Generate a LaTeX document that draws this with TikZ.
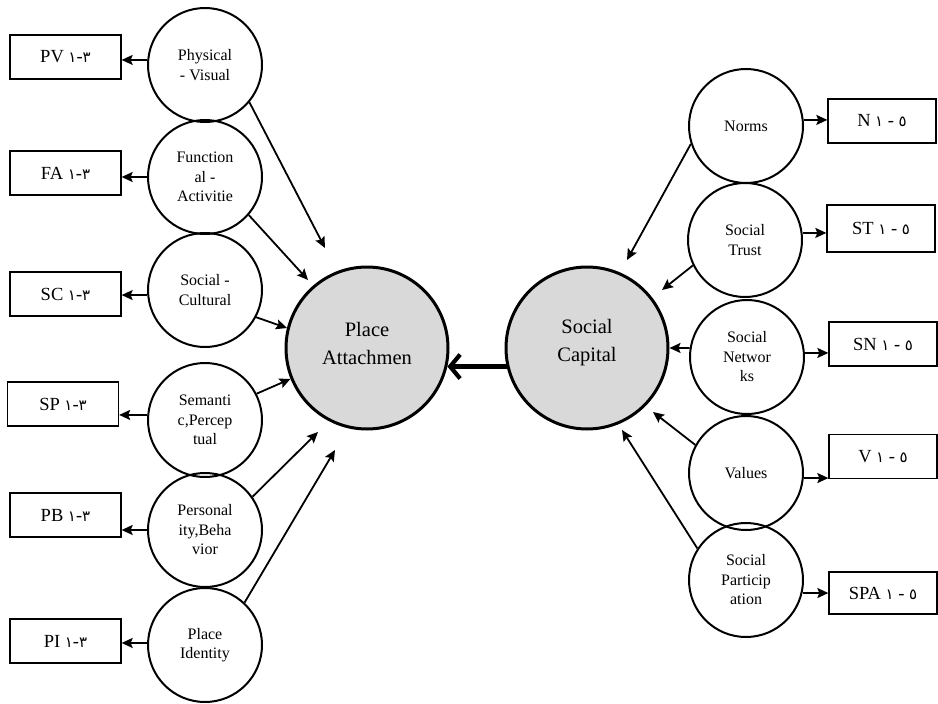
\documentclass[tikz,border=0pt]{standalone}
\usepackage{fontspec}
\setmainfont{Liberation Serif}
\newfontfamily\arfont{DejaVu Sans}
\usetikzlibrary{arrows.meta}
\definecolor{capgray}{HTML}{D9D9D9}
\newcommand{\ard}[1]{{\arfont\fontsize{15}{15}\selectfont #1}}
\tikzset{
 facc/.style={circle, draw, line width=2pt, minimum size=114pt, inner sep=0pt, align=center, font=\fontsize{16}{19.5}\selectfont},
 bigc/.style={circle, draw, line width=3pt, fill=capgray, minimum size=162pt, inner sep=0pt},
 bigtext/.style={align=center, font=\fontsize{20.5}{28}\selectfont, inner sep=0pt},
 itembox/.style={draw, line width=1.3pt, minimum width=111pt, minimum height=44pt, inner sep=0pt, font=\fontsize{18.5}{20}\selectfont},
 ritembox/.style={itembox, minimum width=108pt},
 arr/.style={line width=1.8pt, -{Stealth[length=11pt,width=10pt,inset=2pt]}},
 bigarr/.style={line width=4.2pt, -{Straight Barb[length=10pt,width=24pt]}, line cap=round}
}
\begin{document}
\begin{tikzpicture}[x=1pt,y=-1pt]
\useasboundingbox (0,0) rectangle (938,704);
% central circles
\node[bigc] (pa) at (367,348) {};
\node[bigc] (sc) at (587,348) {};
\node[bigtext] (pat) at (367,343) {Place\\Attachmen};
\node[bigtext] (sct) at (587,343) {Social\\Capital};
\draw[bigarr] (sc.193.7) -- (pa.-13.7);
% left factors
\node[facc] (pv) at (205,65) {Physical\\- Visual};
\node[facc] (fa) at (205,177) {Function\\al -\\Activitie};
\node[facc] (scu) at (205,290) {Social -\\Cultural};
\node[facc] (sp) at (205,420) {Semanti\\c,Percep\\tual};
\node[facc] (pb) at (205,530) {Personal\\ity,Beha\\vior};
\node[facc] (pi) at (205,645) {Place\\Identity};
% left boxes
\node[itembox] (bpv) at (65.5,57) {PV \ard{١}-\ard{٣}};
\node[itembox] (bfa) at (65.5,173) {FA \ard{١}-\ard{٣}};
\node[itembox] (bsc) at (65.5,294) {SC \ard{١}-\ard{٣}};
\node[itembox] (bsp) at (63,404) {SP \ard{١}-\ard{٣}};
\node[itembox] (bpb) at (65.5,515) {PB \ard{١}-\ard{٣}};
\node[itembox] (bpi) at (65.5,641) {PI \ard{١}-\ard{٣}};
\draw[arr] (pv.175) -- (pv.175 -| bpv.east);
\draw[arr] (fa.west) -- (fa.west -| bfa.east);
\draw[arr] (scu.185) -- (scu.185 -| bsc.east);
\draw[arr] (sp.175) -- (sp.175 -| bsp.east);
\draw[arr] (pb.west) -- (pb.west -| bpb.east);
\draw[arr] (pi.178) -- (pi.178 -| bpi.east);
% arrows into Place Attachment
\coordinate (t1) at (325,248);
\coordinate (t2) at (308,280);
\coordinate (t5) at (318,432);
\coordinate (t6) at (335,450);
\draw[arr] (pv.-40) -- (t1);
\draw[arr] (fa.-41) -- (t2);
\draw[arr] (scu.-28) -- (pa.166);
\draw[arr] (sp.27) -- (pa.202.5);
\draw[arr] (pb.35) -- (t5);
\draw[arr] (pi.47) -- (t6);
% right factors
\node[facc] (no) at (746,126) {Norms};
\node[facc] (st) at (745,240) {Social\\Trust};
\node[facc] (sn) at (747,357) {Social\\Networ\\ks};
\node[facc] (va) at (746,473) {Values};
\node[facc] (spa) at (746,580) {Social\\Particip\\ation};
% right boxes
\node[ritembox] (bno) at (882,121) {N \ard{١} - \ard{٥}};
\node[ritembox, minimum height=47pt] (bst) at (881,228.5) {ST \ard{١} - \ard{٥}};
\node[ritembox] (bsn) at (883,344) {SN \ard{١} - \ard{٥}};
\node[ritembox] (bva) at (883,456.5) {V \ard{١} - \ard{٥}};
\node[ritembox, minimum height=42pt] (bspa) at (883,593) {SPA \ard{١} - \ard{٥}};
\draw[arr] (no.6) -- (no.6 -| bno.west);
\draw[arr] (st.7) -- (st.7 -| bst.west);
\draw[arr] (sn.4) -- (sn.4 -| bsn.west);
\draw[arr] (va.-5) -- (va.-5 -| bva.west);
\draw[arr] (spa.-13.2) -- (spa.-13.2 -| bspa.west);
% arrows into Social Capital
\coordinate (r1) at (627,260);
\coordinate (r2) at (662,290);
\coordinate (r4) at (653,412);
\coordinate (r5) at (622,430);
\draw[arr] (no.198.7) -- (r1);
\draw[arr] (st.206) -- (r2);
\draw[arr] (sn.171) -- (sc.east);
\draw[arr] (va.151) -- (r4);
\draw[arr] (spa.147) -- (r5);
\end{tikzpicture}
\end{document}
